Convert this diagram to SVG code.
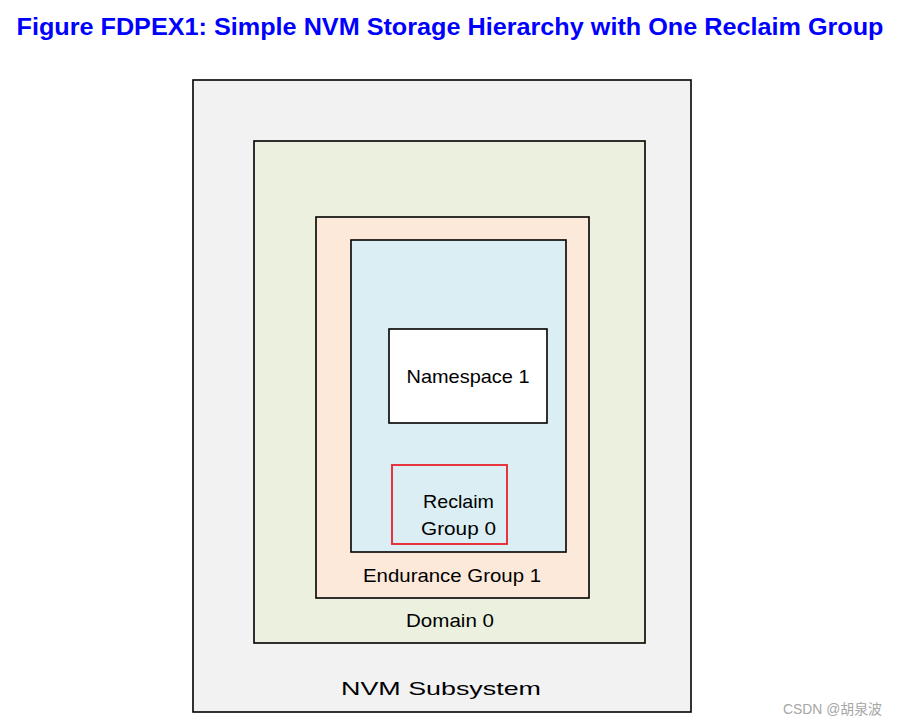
<svg xmlns="http://www.w3.org/2000/svg" width="898" height="725" viewBox="0 0 898 725">
  <style>
    .box { stroke: #000; stroke-width: 1.6; }
    .lbl { font-family: "Liberation Sans", Arial, sans-serif; font-size: 19px; fill: #000; text-anchor: middle; }
  </style>
  <rect width="898" height="725" fill="#fff"/>

  <!-- Title -->
  <text x="450" y="35" font-family="Liberation Sans, Arial, sans-serif" font-size="24" font-weight="bold" fill="#0000ff" text-anchor="middle" textLength="867" lengthAdjust="spacingAndGlyphs">Figure FDPEX1: Simple NVM Storage Hierarchy with One Reclaim Group</text>

  <g id="nvm-subsystem">
    <rect class="box" x="193" y="80" width="498" height="632" fill="#f2f2f2"/>
    <text class="lbl" x="441" y="695" font-size="28" textLength="200" lengthAdjust="spacingAndGlyphs">NVM Subsystem</text>
  </g>

  <g id="domain-0">
    <rect class="box" x="254" y="141" width="391" height="502" fill="#ebf1de"/>
    <text class="lbl" x="450" y="627" textLength="88" lengthAdjust="spacingAndGlyphs">Domain 0</text>
  </g>

  <g id="endurance-group-1">
    <rect class="box" x="316" y="217" width="273" height="381" fill="#fde9d9"/>
    <text class="lbl" x="452" y="582" textLength="178" lengthAdjust="spacingAndGlyphs">Endurance Group 1</text>
  </g>

  <g id="reclaim-unit-area">
    <rect class="box" x="351" y="240" width="215" height="312" fill="#dbeef3"/>
  </g>

  <g id="namespace-1">
    <rect class="box" x="389" y="329" width="158" height="94" fill="#fff"/>
    <text class="lbl" x="468" y="383" textLength="123" lengthAdjust="spacingAndGlyphs">Namespace 1</text>
  </g>

  <g id="reclaim-group-0">
    <rect x="392" y="465" width="115" height="79" fill="none" stroke="#e8202a" stroke-width="1.8"/>
    <text class="lbl" x="458.5" y="508" textLength="71" lengthAdjust="spacingAndGlyphs">Reclaim</text>
    <text class="lbl" x="458.5" y="535" textLength="75" lengthAdjust="spacingAndGlyphs">Group 0</text>
  </g>

  <g id="connectors"></g>

  <text x="882" y="714" font-family="Liberation Sans, Arial, 'Noto Sans CJK SC', sans-serif" font-size="14" fill="#a6a6a6" text-anchor="end" textLength="99" lengthAdjust="spacingAndGlyphs">CSDN @胡泉波</text>
</svg>
